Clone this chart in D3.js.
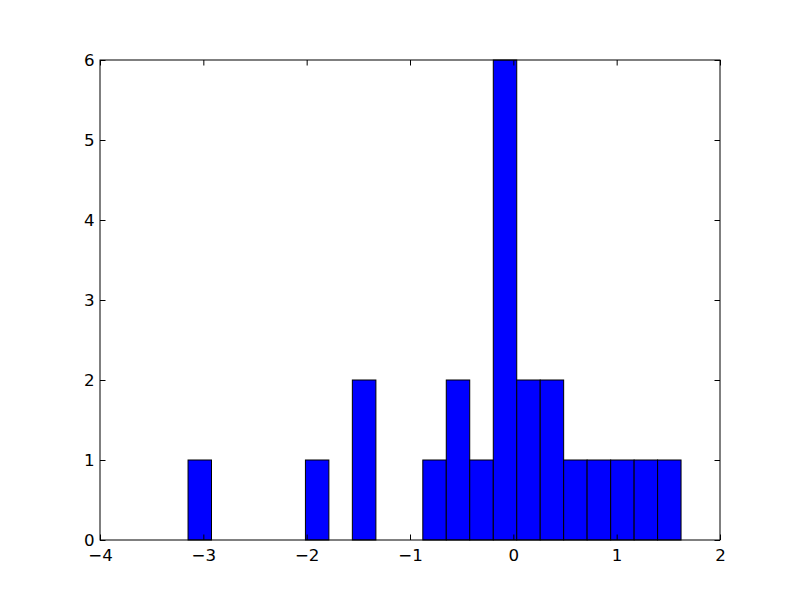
<!DOCTYPE html>
<html><head><meta charset="utf-8">
<script src="https://cdn.jsdelivr.net/npm/d3@7"></script>
<style>body{margin:0;background:#fff}svg{display:block}</style>
</head><body>
<script>
const binEdges = [-3.148,-2.921,-2.694,-2.466,-2.239,-2.012,-1.785,-1.558,-1.330,-1.103,-0.876,-0.649,-0.422,-0.194,0.033,0.260,0.487,0.714,0.942,1.169,1.396,1.623];
const counts = [1,0,0,0,0,1,0,2,0,0,1,2,1,6,2,2,1,1,1,1,1];
const xTicks = [-4,-3,-2,-1,0,1,2];
const yTicks = [0,1,2,3,4,5,6];

const W=800,H=600, L=100,R=720,T=60,B=540;
const svg=d3.select("body").append("svg").attr("width",W).attr("height",H);
const x=d3.scaleLinear().domain([-4,2]).range([L,R]);
const y=d3.scaleLinear().domain([0,6]).range([B,T]);
const bins = counts.map((c,i)=>({x0:binEdges[i],x1:binEdges[i+1],c}));

svg.append("g").selectAll("rect").data(bins.filter(d=>d.c>0)).join("rect")
  .attr("x",d=>x(d.x0)).attr("y",d=>y(d.c))
  .attr("width",d=>x(d.x1)-x(d.x0)).attr("height",d=>y(0)-y(d.c))
  .attr("fill","#0000ff").attr("stroke","#000").attr("stroke-width",1);

const fmt=d=>d<0?"\u2212"+Math.abs(d):String(d);
const font="'DejaVu Sans'";
const fs="16.67px";
function ax(gen, tr){
  const g=svg.append("g").attr("transform",tr).call(gen)
    .attr("font-family",font).attr("font-size",fs);
  g.select(".domain").remove();
  g.selectAll("text").style("font-family",font).style("font-size",fs).attr("fill","#000");
  g.selectAll("line").attr("stroke","#000");
  return g;
}
ax(d3.axisBottom(x).tickValues(xTicks).tickFormat(fmt).tickSizeInner(-5.5).tickSizeOuter(0).tickPadding(9),`translate(0,${B})`);
ax(d3.axisTop(x).tickValues(xTicks).tickFormat("").tickSizeInner(-5.5).tickSizeOuter(0),`translate(0,${T})`);
ax(d3.axisLeft(y).tickValues(yTicks).tickFormat(fmt).tickSizeInner(-5.5).tickSizeOuter(0).tickPadding(5.5),`translate(${L},0)`);
ax(d3.axisRight(y).tickValues(yTicks).tickFormat("").tickSizeInner(-5.5).tickSizeOuter(0),`translate(${R},0)`);

svg.append("rect").attr("x",L).attr("y",T).attr("width",R-L).attr("height",B-T)
  .attr("fill","none").attr("stroke","#000").attr("stroke-width",1);
</script>
</body></html>
